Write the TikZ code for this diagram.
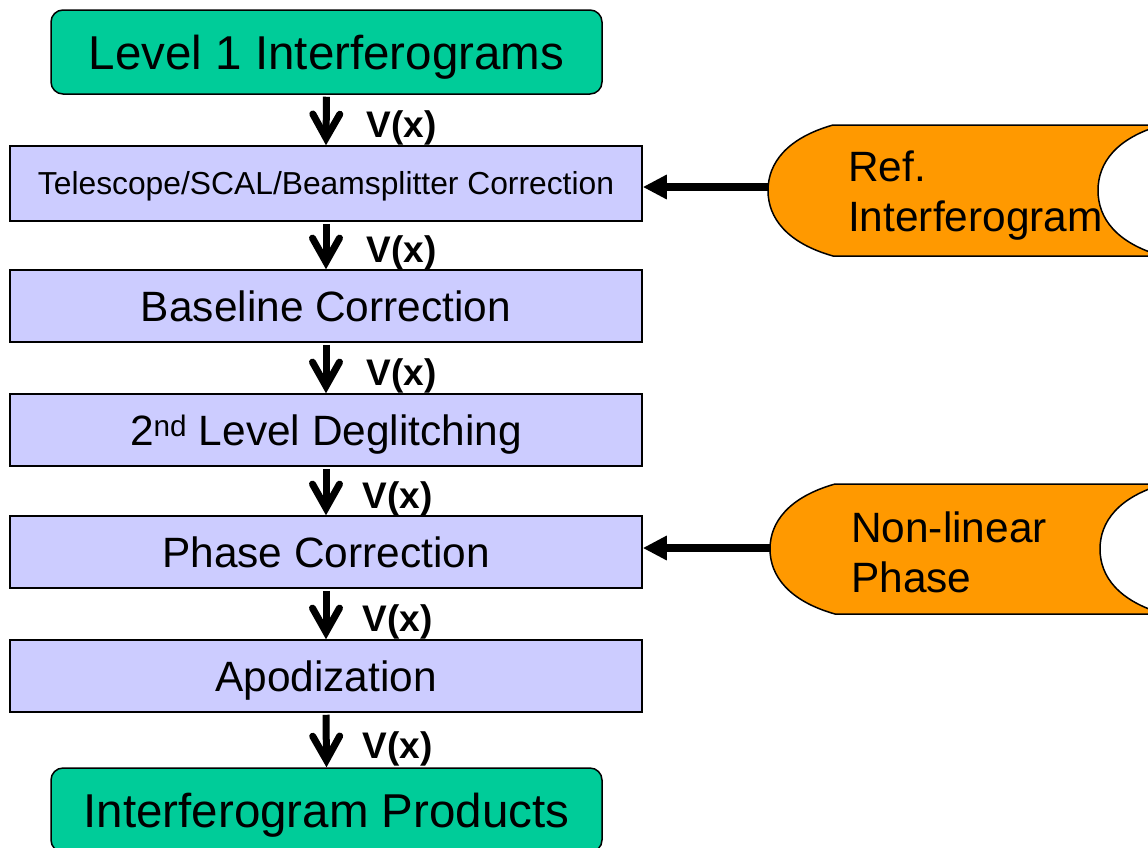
\documentclass[tikz,border=0pt]{standalone}
\usepackage{fontspec}
\setmainfont{Liberation Sans}
\usetikzlibrary{arrows.meta}
\definecolor{procfill}{RGB}{204,204,255}
\definecolor{termfill}{RGB}{0,204,153}
\definecolor{datafill}{RGB}{255,153,0}

\begin{document}
\begin{tikzpicture}[x=1pt,y=-1pt,
  terminal/.style={draw=black, line width=1.5pt, fill=termfill, rounded corners=12pt,
    minimum width=551pt, minimum height=84pt, inner sep=0pt,
    font=\fontsize{47.5}{52}\selectfont, text height=34pt, text depth=0pt},
  process/.style={draw=black, line width=1.5pt, fill=procfill,
    minimum width=632pt, minimum height=72pt, inner sep=0pt,
    font=\fontsize{42.4}{48}\selectfont, text height=30.4pt, text depth=0pt},
  flow/.style={line width=7pt, shorten <=2pt,
    -{Straight Barb[length=24pt, width=27pt, line cap=round]}},
  feed/.style={line width=8pt, -{Triangle[length=24pt, width=23pt]}},
  vlab/.style={pos=0.66, anchor=west, inner sep=0pt,
    font=\bfseries\fontsize{37}{40}\selectfont},
  datashape/.style={draw=black, line width=1.5pt, fill=datafill},
  datatext/.style={align=left, inner sep=0pt, font=\fontsize{42.4}{50}\selectfont}
]
\useasboundingbox (0,0) rectangle (1148,847);
\begin{scope}
\clip (0,0) rectangle (1148,847);

% processing chain
\node[terminal] (l1) at (326.5,52) {Level 1 Interferograms};
\node[process, minimum height=75pt, font=\fontsize{31.8}{36}\selectfont, text height=22.8pt]
  (tel) at (326,183.5) {Telescope/SCAL/Beamsplitter Correction};
\node[process] (base)  at (326,306) {Baseline Correction};
\node[process] (degl)  at (326,430) {2\textsuperscript{nd} Level Deglitching};
\node[process] (phase) at (326,552) {Phase Correction};
\node[process] (apod)  at (326,676) {Apodization};
\node[terminal] (prod) at (326.5,810) {Interferogram Products};

% data flow between stages
\draw[flow] (l1.south)    -- node[vlab, xshift=37pt] {V(x)} (tel.north);
\draw[flow] (tel.south)   -- node[vlab, xshift=37pt] {V(x)} (base.north);
\draw[flow] (base.south)  -- node[vlab, xshift=37pt] {V(x)} (degl.north);
\draw[flow] (degl.south)  -- node[vlab, xshift=33pt] {V(x)} (phase.north);
\draw[flow] (phase.south) -- node[vlab, xshift=33pt] {V(x)} (apod.north);
\draw[flow] (apod.south)  -- node[vlab, xshift=33pt] {V(x)} (prod.north);

% stored-data inputs
\path[datashape] (833,125) -- (1162,125)
  .. controls (1116,138) and (1098,163) .. (1098,190.5)
  .. controls (1098,218) and (1116,243) .. (1162,256)
  -- (833,256)
  .. controls (787,243) and (768,218) .. (768,190.5)
  .. controls (768,163) and (787,138) .. (833,125) -- cycle;
\node[datatext, anchor=west] (reftxt) at (848,196) {Ref.\\Interferogram};
\coordinate (refin) at (768,187);

\path[datashape] (835,484) -- (1164,484)
  .. controls (1118,497) and (1100,522) .. (1100,549)
  .. controls (1100,576) and (1118,601) .. (1164,614)
  -- (835,614)
  .. controls (789,601) and (770,576) .. (770,549)
  .. controls (770,522) and (789,497) .. (835,484) -- cycle;
\node[datatext, anchor=west] (nltxt) at (851,552) {Non-linear\\Phase};
\coordinate (nlin) at (770,548);

\draw[feed] (refin) -- (refin -| tel.east);
\draw[feed] (nlin) -- (nlin -| phase.east);
\end{scope}
\end{tikzpicture}
\end{document}
